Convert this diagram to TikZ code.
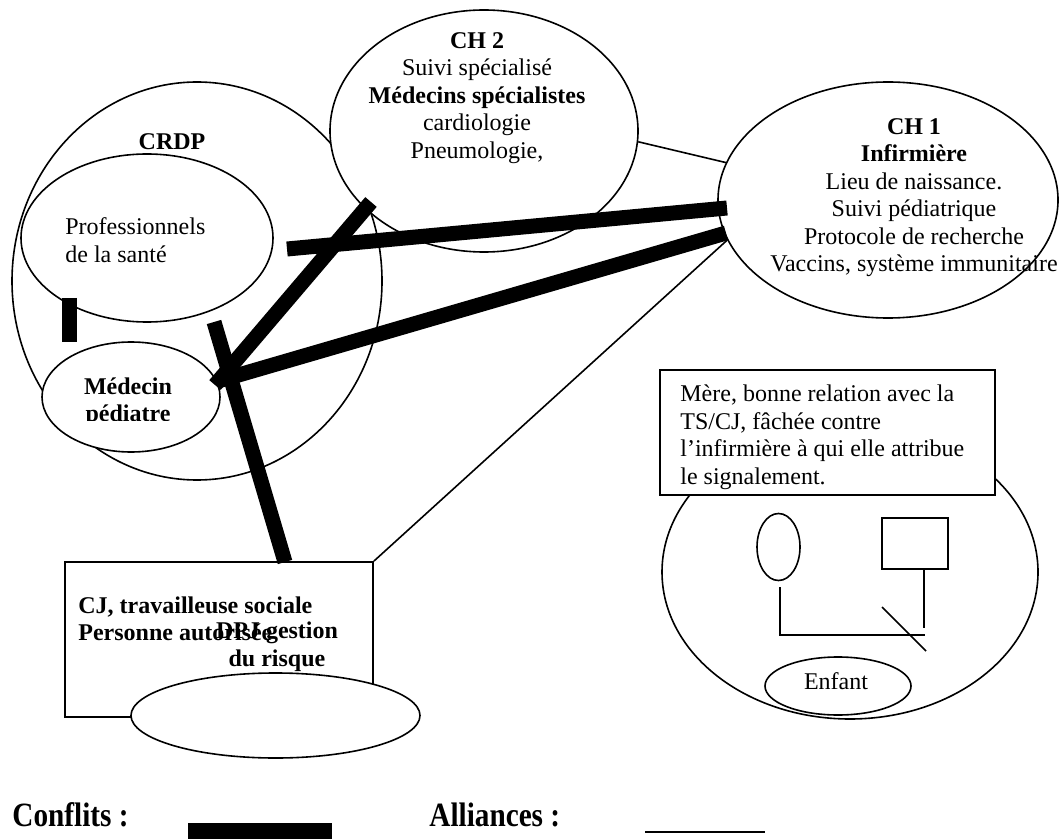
\documentclass[tikz,border=0pt]{standalone}
\usepackage{fontspec}
\setmainfont{Liberation Serif}
\usetikzlibrary{shapes.geometric}
\begin{document}
\begin{tikzpicture}[x=0.5pt,y=-0.5pt,
  oval/.style={ellipse, draw, fill=white, line width=0.8pt, inner sep=0pt},
  boite/.style={rectangle, draw, fill=white, line width=0.9pt, inner sep=0pt},
  lien/.style={line width=0.8pt},
  conflit/.style={line width=7.5pt, line cap=butt},
  txt/.style={inner sep=0pt, align=center, font=\fontsize{12}{13.75}\selectfont},
  btxt/.style={inner sep=0pt, align=center, font=\bfseries\fontsize{12}{13.75}\selectfont},
  leg/.style={inner sep=0pt, anchor=west, font=\bfseries\fontsize{17}{20}\selectfont}]
\useasboundingbox (0,0) rectangle (1059,839);

% main ellipses
\node[oval, minimum width=185pt, minimum height=199pt] (crdp) at (197,281) {};
\node[oval, minimum width=154pt, minimum height=121pt] (ch2) at (484,131) {};
\node[oval, minimum width=170pt, minimum height=118pt] (ch1) at (888,200) {};
\node[oval, minimum width=126pt, minimum height=84pt] (prof) at (147,238) {};
\node[oval, minimum width=89pt, minimum height=55pt] (med) at (131,397) {};

% texts
\node[btxt] (tcrdp) at (172,142) {CRDP};
\node[txt, align=left, anchor=west] (tprof) at (65,240) {Professionnels\\de la santé};
\begin{scope}
  \clip (40,340) rectangle (222,420);
  \node[btxt] (tmed) at (128,402) {Médecin\\pédiatre};
\end{scope}
\node[txt] (tch2) at (477,98) {\textbf{CH 2}\\Suivi spécialisé\\\textbf{Médecins spécialistes}\\cardiologie\\Pneumologie,};
\node[txt] (tch1) at (914,197.5) {\textbf{CH 1}\\\textbf{Infirmière}\\Lieu de naissance.\\Suivi pédiatrique\\Protocole de recherche\\Vaccins, système immunitaire};

% CJ box and ellipse
\node[boite, minimum width=154pt, minimum height=77.5pt] (cj) at (219,639.5) {};
\node[oval, minimum width=144.5pt, minimum height=42.5pt] (dpj) at (275.5,715.5) {};
\node[btxt, align=left, anchor=west] (tcj) at (78,619) {CJ, travailleuse sociale\\Personne autorisée};
\node[btxt] (tdpj) at (277,646.5) {DPJ gestion\\du risque};

% thin links (alliances)
\draw[lien] (ch2.-4) -- (ch1.167);
\draw[lien] (ch1.194) -- (cj.north east);

% thick links (conflicts)
\coordinate (k1s) at (287,249);
\coordinate (k1e) at (727,208);
\coordinate (k2s) at (371,202);
\coordinate (k2e) at (215,385);
\coordinate (k3s) at (218,381);
\coordinate (k3e) at (726,233);
\coordinate (k4s) at (214,322);
\coordinate (k4e) at (285,562);
\coordinate (k5s) at (69.5,298);
\coordinate (k5e) at (69.5,342);
\draw[conflit] (k1s) -- (k1e);
\draw[conflit] (k2s) -- (k2e);
\draw[conflit] (k3s) -- (k3e);
\draw[conflit] (k4s) -- (k4e);
\draw[conflit] (k5s) -- (k5e);

% family
\node[oval, minimum width=188pt, minimum height=147pt] (fam) at (850,572) {};
\node[boite, minimum width=167.5pt, minimum height=62.5pt] (mbox) at (827.5,432.5) {};
\begin{scope}
  \clip (662,372) rectangle (993,491);
  \node[txt, align=left, anchor=west] (tmere) at (680,437) {Mère, bonne relation avec la\\TS/CJ, fâchée contre\\l’infirmière à qui elle attribue\\le signalement.};
\end{scope}
\node[oval, minimum width=21.5pt, minimum height=33.5pt] (mere) at (778.5,547) {};
\node[boite, minimum width=33pt, minimum height=25.5pt] (pere) at (915,543.5) {};
\coordinate (m1) at (780,587);
\coordinate (m2) at (780,635);
\coordinate (p2) at (925,635);
\coordinate (p1) at (924,569);
\coordinate (p3) at (924,628);
\coordinate (d1) at (882,607);
\coordinate (d2) at (926,651);
\draw[lien] (m1) -- (m2) -- (p2);
\draw[lien] (p1) -- (p3);
\draw[lien] (d1) -- (d2);
\node[oval, minimum width=73pt, minimum height=29pt] (enf) at (838,686) {};
\node[txt] (tenf) at (836,681) {Enfant};

% legend
\node[leg] (lconf) at (12,815) {\scalebox{0.86}[1]{Conflits :}};
\node[inner sep=0pt, fill=black, minimum width=72pt, minimum height=8.5pt] (bconf) at (260,831) {};
\node[leg] (lall) at (429,815) {\scalebox{0.86}[1]{Alliances :}};
\coordinate (a1) at (645,832);
\coordinate (a2) at (765,832);
\draw[line width=1pt] (a1) -- (a2);
\end{tikzpicture}
\end{document}
